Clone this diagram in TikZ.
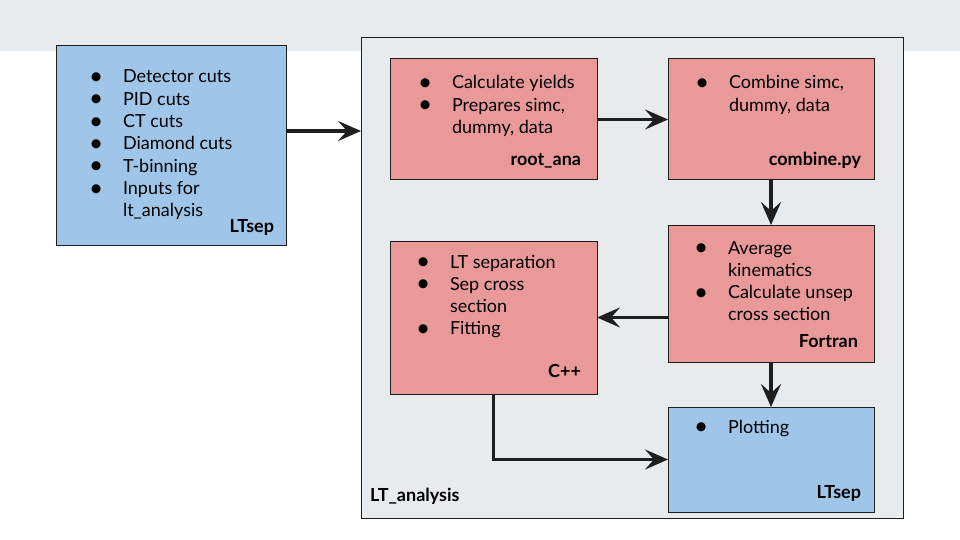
\documentclass[tikz,border=0pt]{standalone}
\usepackage{fontspec}
\setmainfont{Lato}
\usetikzlibrary{arrows.meta,calc}
\definecolor{bandgray}{HTML}{E8EBED}
\definecolor{boxblue}{HTML}{9FC5E8}
\definecolor{boxred}{HTML}{EA9999}
\definecolor{ink}{HTML}{1E1E1E}
\newcommand{\bul}{\raisebox{-1.6pt}{\scalebox{1.35}{\textbullet}}}
\newcommand{\items}[1]{\begin{tabular}[t]{@{}p{34pt}@{}l@{}}#1\end{tabular}}
\tikzset{
  box/.style={draw=ink, line width=1pt, inner sep=0pt, outer sep=0pt, anchor=north west},
  bluebox/.style={box, fill=boxblue},
  redbox/.style={box, fill=boxred},
  txt/.style={inner sep=0pt, outer sep=0pt, anchor=base west, font=\fontsize{18pt}{22.3pt}\selectfont, text=black},
  lbl/.style={inner sep=0pt, outer sep=0pt, anchor=base east, font=\fontsize{18pt}{22.3pt}\selectfont\bfseries, text=black},
  conn/.style={draw=ink, line width=3.5pt, -{Stealth[length=23pt,width=20pt,inset=9pt]}}
}
\begin{document}
\begin{tikzpicture}[x=1pt,y=-1pt]
\useasboundingbox (0,0) rectangle (960,540);
\fill[bandgray] (0,0) rectangle (960,51);
% container
\node[box, fill=bandgray, minimum width=542pt, minimum height=480pt] (ana) at (361,38) {};
\node[lbl, anchor=base west] (anaL) at (370,501) {LT\_analysis};
% boxes
\node[bluebox, minimum width=230pt, minimum height=199pt] (ltsep) at (56,46) {};
\node[redbox, minimum width=207pt, minimum height=121pt] (root) at (390,59) {};
\node[redbox, minimum width=206pt, minimum height=121pt] (comb) at (668,59) {};
\node[redbox, minimum width=206pt, minimum height=137pt] (fort) at (668,225) {};
\node[redbox, minimum width=207pt, minimum height=153pt] (cpp) at (390,241) {};
\node[bluebox, minimum width=206pt, minimum height=105pt] (plot) at (668,407) {};
% texts
\node[txt] (ltsepT) at (89,83) {\items{\bul & Detector cuts\\ \bul & PID cuts\\ \bul & CT cuts\\ \bul & Diamond cuts\\ \bul & T-binning\\ \bul & Inputs for\\ & lt\_analysis}};
\node[lbl] (ltsepL) at (274,232) {LTsep};
\node[txt] (rootT) at (418,89) {\items{\bul & Calculate yields\\ \bul & Prepares simc,\\ & dummy, data}};
\node[lbl] (rootL) at (581,165) {root\_ana};
\node[txt] (combT) at (695,89) {\items{\bul & Combine simc,\\ & dummy, data}};
\node[lbl] (combL) at (861,165) {combine.py};
\node[txt] (fortT) at (694,254) {\items{\bul & Average\\ & kinematics\\ \bul & Calculate unsep\\ & cross section}};
\node[lbl] (fortL) at (858,347) {Fortran};
\node[txt] (cppT) at (416,268) {\items{\bul & LT separation\\ \bul & Sep cross\\ & section\\ \bul & Fitting}};
\node[lbl] (cppL) at (581,377) {C++};
\node[txt] (plotT) at (694,433) {\items{\bul & Plotting}};
\node[lbl] (plotL) at (861,498) {LTsep};
% connectors
\draw[conn] (ltsep.east |- 0,131) -- (ana.west |- 0,131);
\draw[conn] (root.east) -- (comb.west);
\draw[conn] (comb.south) -- (fort.north);
\draw[conn] (fort.west |- cpp.east) -- (cpp.east);
\draw[conn] (fort.south) -- (plot.north);
\draw[conn] (cpp.south) |- (plot.west);
\end{tikzpicture}
\end{document}
